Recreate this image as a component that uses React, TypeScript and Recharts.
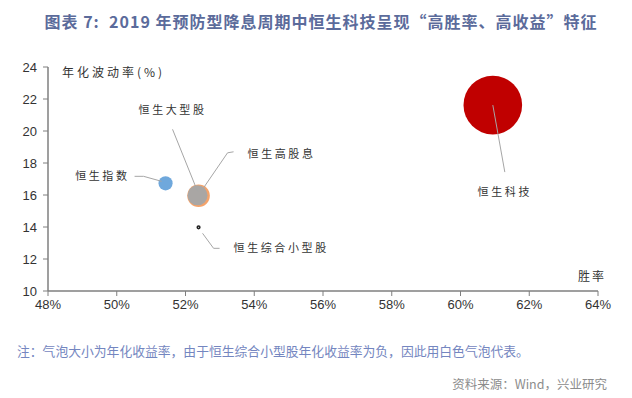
import React from 'react';
import { ScatterChart, Scatter, XAxis, YAxis, ZAxis } from 'recharts';

// 数据：胜率 / 年化波动率 / 年化收益率（气泡大小）
const names = ['恒生高股息', '恒生大型股', '恒生指数', '恒生综合小型股', '恒生科技'];
const winRate = [0.5238, 0.5235, 0.5142, 0.5238, 0.6094];
const volatility = [15.95, 15.98, 16.73, 13.98, 21.62];
const annualReturn = [7.4, 5.8, 2.9, -0.15, 50];
const colors = ['#f4a36b', '#a9a6a4', '#6fa8dc', '#ffffff', '#c00000'];

const xTicks = [0.48, 0.5, 0.52, 0.54, 0.56, 0.58, 0.6, 0.62, 0.64];
const yTicks = [10, 12, 14, 16, 18, 20, 22, 24];

// leader line + label placement, relative to the bubble centre
const labelLayout: Record<string, { pts: number[][]; tx: number; ty: number; anchor: 'start' | 'middle' | 'end' }> = {
  恒生指数: { pts: [[-31, -7], [-22, -7], [-4, -2]], tx: -36, ty: -3, anchor: 'end' },
  恒生大型股: { pts: [[-25, -66], [0, -4]], tx: -25, ty: -81, anchor: 'middle' },
  恒生高股息: { pts: [[5, -8], [29, -43], [35, -44]], tx: 49, ty: -38, anchor: 'start' },
  恒生综合小型股: { pts: [[4, 6], [15, 21], [21, 21]], tx: 35, ty: 25, anchor: 'start' },
  恒生科技: { pts: [[0, 0], [12, 67]], tx: 12, ty: 91, anchor: 'middle' },
};

const series = names.map((name, i) => ({
  name,
  data: [{ x: winRate[i], y: volatility[i], z: Math.abs(annualReturn[i]), ret: annualReturn[i] }],
  color: colors[i],
}));

const labelFont = '"Noto Sans CJK SC", sans-serif';

function makeShape(name: string, color: string) {
  return (props: any) => {
    const { cx, cy, size } = props;
    const r = Math.sqrt((size ?? 0) / Math.PI);
    const lay = labelLayout[name];
    const negative = props.payload && props.payload.ret < 0;
    return (
      <g>
        <circle
          cx={cx}
          cy={cy}
          r={negative ? 1.3 : r}
          fill={color}
          stroke={negative ? '#222' : 'none'}
          strokeWidth={negative ? 1.6 : 0}
        />
        <polyline
          points={lay.pts.map(([dx, dy]) => `${cx + dx},${cy + dy}`).join(' ')}
          fill="none"
          stroke="#a6a6a6"
          strokeWidth={1}
        />
        <text
          x={cx + lay.tx}
          y={cy + lay.ty}
          textAnchor={lay.anchor}
          fontSize={11}
          letterSpacing={2.6}
          fill="#333"
          fontFamily={labelFont}
        >
          {name}
        </text>
      </g>
    );
  };
}

export default function App() {
  const zMax = Math.max(...annualReturn);
  return (
    <div
      style={{
        position: 'absolute',
        left: 0,
        top: 0,
        width: 632,
        height: 398,
        background: '#fff',
        fontFamily: '"Noto Sans CJK SC", "Noto Sans", sans-serif',
        overflow: 'hidden',
      }}
    >
      {/* Title */}
      <div
        style={{
          position: 'absolute',
          top: 9,
          left: 0,
          width: 642,
          textAlign: 'center',
          fontSize: 16,
          fontWeight: 700,
          letterSpacing: 1,
          color: '#5b6b9b',
          whiteSpace: 'pre',
        }}
      >
        {'图表 7:  2019 年预防型降息周期中恒生科技呈现“高胜率、高收益”特征'}
      </div>

      <ScatterChart width={632} height={398} margin={{ top: 67, right: 34, bottom: 77, left: 0 }}>
        <XAxis
          type="number"
          dataKey="x"
          domain={[0.48, 0.64]}
          ticks={xTicks}
          tickFormatter={(v: number) => `${Math.round(v * 100)}%`}
          height={30}
          tickSize={5}
          tickMargin={4}
          axisLine={{ stroke: '#7f7f7f', strokeWidth: 1.5 }}
          tickLine={{ stroke: '#7f7f7f' }}
          tick={{ fill: '#333', fontSize: 13, fontFamily: '"Liberation Sans Narrow", "Liberation Sans", sans-serif' }}
          interval={0}
        />
        <YAxis
          type="number"
          dataKey="y"
          domain={[10, 24]}
          ticks={yTicks}
          width={48}
          tickSize={5}
          tickMargin={6}
          axisLine={{ stroke: '#7f7f7f', strokeWidth: 1.5 }}
          tickLine={{ stroke: '#7f7f7f' }}
          tick={{ fill: '#333', fontSize: 13, fontFamily: '"Liberation Sans Narrow", "Liberation Sans", sans-serif' }}
          interval={0}
        />
        <ZAxis type="number" dataKey="z" domain={[0, zMax]} range={[0, 2700]} />
        {series.map((s) => (
          <Scatter
            key={s.name}
            name={s.name}
            data={s.data}
            fill={s.color}
            isAnimationActive={false}
            shape={makeShape(s.name, s.color)}
          />
        ))}
      </ScatterChart>

      {/* axis titles */}
      <div
        style={{
          position: 'absolute',
          left: 62,
          top: 63,
          fontSize: 12,
          letterSpacing: 3,
          color: '#333',
        }}
      >
        年化波动率(%)
      </div>
      <div
        style={{
          position: 'absolute',
          left: 578,
          top: 267,
          fontSize: 12,
          letterSpacing: 2,
          color: '#333',
        }}
      >
        胜率
      </div>

      {/* note & source */}
      <div style={{ position: 'absolute', left: 17, top: 341, fontSize: 12.8, color: '#7486c0' }}>
        注：气泡大小为年化收益率，由于恒生综合小型股年化收益率为负，因此用白色气泡代表。
      </div>
      <div style={{ position: 'absolute', right: 25, top: 374, fontSize: 12.5, color: '#8c8c8c' }}>
        资料来源：Wind，兴业研究
      </div>
    </div>
  );
}
